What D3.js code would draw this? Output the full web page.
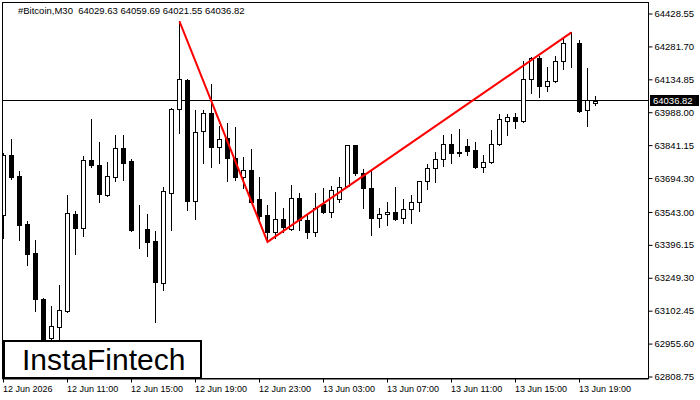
<!DOCTYPE html>
<html>
<head>
<meta charset="utf-8">
<script src="https://cdn.jsdelivr.net/npm/d3@7"></script>
<style>
html,body{margin:0;padding:0;background:#fff;}
svg{display:block;}
text{font-family:"Liberation Sans",Arial,sans-serif;}
</style>
</head>
<body>
<div id="chart"></div>
<script>
const symbolTitle = "#Bitcoin,M30";
const headerValues = ["64029.63", "64059.69", "64021.55", "64036.82"];

const open = [
63529.7, 63796.7, 63703.2, 63489.6, 63360.6, 63155.9, 62982.3, 63031.3, 63102.5, 63534.1,
63471.8, 63774.4, 63752.2, 63618.7, 63698.8, 63827.8, 63770.0, 63467.3, 63467.3, 63413.9,
63227.0, 63627.6, 64001.4, 64130.4, 63591.9, 63903.5, 63983.6, 63832.2, 63872.3, 63783.3,
63698.8, 63729.9, 63600.9, 63529.7, 63454.0, 63511.9, 63467.3, 63605.3, 63507.4, 63454.0,
63578.6, 63543.0, 63600.9, 63658.7, 63841.2, 63716.6, 63649.8, 63516.3, 63534.1, 63543.0,
63516.3, 63556.4, 63587.5, 63680.9, 63738.8, 63778.9, 63845.6, 63810.0, 63836.7, 63818.9,
63743.3, 63765.5, 63845.6, 63947.9, 63965.7, 63947.9, 64134.9, 64228.3, 64103.7, 64126.0,
64215.0, 64295.0, 64295.0, 63996.9, 64029.63];

const high = [
63805.6, 63867.9, 63725.5, 63503.0, 63418.4, 63160.0, 63124.7, 63218.2, 63618.7, 63547.5,
63792.2, 63956.9, 63854.5, 63765.5, 63885.7, 63885.7, 63778.9, 63574.2, 63534.1, 63458.4,
63654.2, 64005.9, 64392.9, 64134.9, 63996.9, 63996.9, 64112.6, 63925.7, 63939.0, 63921.2,
63787.8, 63823.4, 63698.8, 63574.2, 63632.0, 63560.8, 63663.2, 63627.6, 63529.7, 63627.6,
63649.8, 63658.7, 63698.8, 63843.0, 63843.0, 63734.4, 63725.5, 63560.8, 63587.5, 63654.2,
63600.9, 63618.7, 63683.0, 63756.6, 63809.9, 63885.7, 63890.2, 63912.4, 63867.9, 63854.5,
63796.7, 63907.9, 63979.1, 63979.1, 63983.6, 64215.0, 64232.8, 64237.2, 64188.2, 64237.2,
64321.7, 64344.0, 64308.4, 64183.8, 64059.69];

const low = [
63427.3, 63689.9, 63418.4, 63307.2, 63102.5, 62906.7, 62937.8, 62951.2, 63098.0, 63356.1,
63436.2, 63743.3, 63587.5, 63614.2, 63680.9, 63685.4, 63458.4, 63382.8, 63347.2, 63053.5,
63195.9, 63462.9, 63894.6, 63551.9, 63511.9, 63761.0, 63743.3, 63761.0, 63680.9, 63685.4,
63649.8, 63584.0, 63511.9, 63409.5, 63427.3, 63454.0, 63462.9, 63462.9, 63427.3, 63436.2,
63538.6, 63520.8, 63587.5, 63654.2, 63707.7, 63560.8, 63440.7, 63476.3, 63485.2, 63507.4,
63493.9, 63493.9, 63547.5, 63645.4, 63676.5, 63747.7, 63761.0, 63792.2, 63796.7, 63741.0,
63721.0, 63763.0, 63843.0, 63885.7, 63916.8, 63943.4, 64072.6, 64054.7, 64081.5, 64124.0,
64179.3, 64188.2, 63988.0, 63925.7, 64021.55];

const close = [
63796.7, 63698.8, 63485.2, 63356.1, 63155.9, 62951.2, 63035.7, 63106.9, 63538.6, 63471.8,
63774.4, 63752.2, 63623.1, 63703.2, 63827.8, 63761.0, 63462.9, 63465.0, 63409.5, 63231.5,
63636.5, 64001.4, 64134.9, 63591.9, 63899.0, 63983.6, 63832.2, 63867.9, 63783.3, 63698.8,
63729.9, 63587.5, 63525.2, 63454.0, 63511.9, 63476.3, 63605.3, 63507.4, 63454.0, 63560.8,
63543.0, 63640.9, 63654.2, 63841.2, 63716.6, 63649.8, 63516.3, 63534.1, 63543.0, 63511.9,
63556.4, 63587.5, 63680.9, 63738.8, 63778.9, 63845.6, 63805.6, 63805.6, 63814.5, 63743.3,
63765.5, 63845.6, 63956.9, 63965.7, 63947.9, 64134.9, 64228.3, 64103.7, 64126.0, 64215.0,
64295.0, 64296.0, 63992.5, 64041.4, 64036.82];

const timeTickIndex = [0, 8, 16, 24, 32, 40, 48, 56, 64, 72];
const timeTickLabels = ["12 Jun 2026", "12 Jun 11:00", "12 Jun 15:00", "12 Jun 19:00", "12 Jun 23:00",
  "13 Jun 03:00", "13 Jun 07:00", "13 Jun 11:00", "13 Jun 15:00", "13 Jun 19:00"];

const priceTicks = [64428.55, 64281.70, 64134.85, 63988.00, 63841.15, 63694.30,
  63543.00, 63396.15, 63249.30, 63102.45, 62955.60, 62808.75];

const currentPrice = 64036.82;

const patternIndex = [22, 33, 71];
const patternPrice = [64392.9, 63409.5, 64344.0];

const W = 700, H = 400;
const plotL = 2.5, plotR = 648.5, plotT = 2.5, plotB = 378.5;

const svg = d3.select("#chart").append("svg").attr("width", W).attr("height", H);

const x = d3.scaleLinear().domain([0, 74]).range([3.5, 595.5]);
const y = d3.scaleLinear().domain([62808.75, 64428.55]).range([376.5, 13.5]);

svg.append("defs").append("clipPath").attr("id", "plotclip")
  .append("rect").attr("x", plotL).attr("y", plotT).attr("width", plotR - plotL).attr("height", plotB - plotT);

const plot = svg.append("g").attr("clip-path", "url(#plotclip)");

// current price line
const cy = Math.round(y(currentPrice)) - 0.5;
plot.append("line").attr("x1", plotL).attr("x2", plotR).attr("y1", cy).attr("y2", cy)
  .attr("stroke", "#000").attr("stroke-width", 1);

const candles = d3.range(open.length).map(i => ({i, o: open[i], h: high[i], l: low[i], c: close[i]}));

const cg = plot.append("g");
cg.selectAll("line.wick").data(candles).enter().append("line")
  .attr("class", "wick")
  .attr("x1", d => x(d.i)).attr("x2", d => x(d.i))
  .attr("y1", d => Math.round(y(d.h))).attr("y2", d => Math.round(y(d.l)) + 1)
  .attr("stroke", "#000").attr("stroke-width", 1);

cg.selectAll("rect.body").data(candles).enter().append("rect")
  .attr("class", "body")
  .attr("x", d => x(d.i) - 2)
  .attr("width", 4)
  .attr("y", d => Math.round(y(Math.max(d.o, d.c))) + 0.5)
  .attr("height", d => Math.max(0, Math.round(y(Math.min(d.o, d.c))) - Math.round(y(Math.max(d.o, d.c)))))
  .attr("fill", d => d.c >= d.o ? "#fff" : "#000")
  .attr("stroke", "#000").attr("stroke-width", 1);

// pattern line
const pat = patternIndex.map((d, k) => [x(d), y(patternPrice[k])]);
plot.append("path").attr("d", d3.line()(pat))
  .attr("fill", "none").attr("stroke", "#ff0000").attr("stroke-width", 2);

// frame
svg.append("rect").attr("x", plotL).attr("y", plotT).attr("width", plotR - plotL).attr("height", plotB - plotT)
  .attr("fill", "none").attr("stroke", "#000").attr("stroke-width", 1);
svg.append("line").attr("x1", plotL).attr("x2", plotR).attr("y1", plotB + 0.5).attr("y2", plotB + 0.5)
  .attr("stroke", "#000").attr("stroke-width", 1);

// right axis
const yAxis = d3.axisRight(y).tickValues(priceTicks).tickFormat(d3.format(".2f")).tickSize(4).tickPadding(2);
const ya = svg.append("g").attr("transform", `translate(${plotR},0)`).call(yAxis);
ya.select(".domain").remove();
ya.selectAll("line").attr("stroke", "#000");
ya.selectAll("text").attr("font-size", "9.5px").attr("fill", "#000")
  .attr("font-family", "'Liberation Sans', Arial, sans-serif");

// current price label
const lbl = svg.append("g");
lbl.append("rect").attr("x", 650).attr("y", cy - 5.5).attr("width", 49).attr("height", 11).attr("fill", "#000");
lbl.append("text").attr("x", 653).attr("y", cy + 3.5).attr("font-size", "9.5px").attr("fill", "#fff")
  .text(d3.format(".2f")(currentPrice));

// bottom axis
const xAxis = d3.axisBottom(x).tickValues(timeTickIndex).tickFormat((d, k) => timeTickLabels[k]).tickSize(4).tickPadding(3);
const xa = svg.append("g").attr("transform", `translate(-0.5,${plotB})`).call(xAxis);
xa.select(".domain").remove();
xa.selectAll("line").attr("stroke", "#000");
xa.selectAll("text").attr("text-anchor", "start").attr("dx", "-0.5")
  .attr("font-size", "9px").attr("fill", "#000")
  .attr("font-family", "'Liberation Sans', Arial, sans-serif");

// header
svg.append("text").attr("x", 18).attr("y", 14).attr("font-size", "9.5px").attr("fill", "#000")
  .attr("xml:space", "preserve")
  .text(symbolTitle + "  " + headerValues.join(" "));

// logo box
const logo = svg.append("g");
logo.append("rect").attr("x", 4).attr("y", 341).attr("width", 197).attr("height", 37)
  .attr("fill", "#fff").attr("stroke", "#000").attr("stroke-width", 2);
logo.append("text").attr("x", 22).attr("y", 370).attr("font-size", "30px").attr("fill", "#000")
  .attr("font-family", "'Open Sans', 'Liberation Sans', Arial, sans-serif").attr("font-weight", 500)
  .text("InstaFintech");
</script>
</body>
</html>
